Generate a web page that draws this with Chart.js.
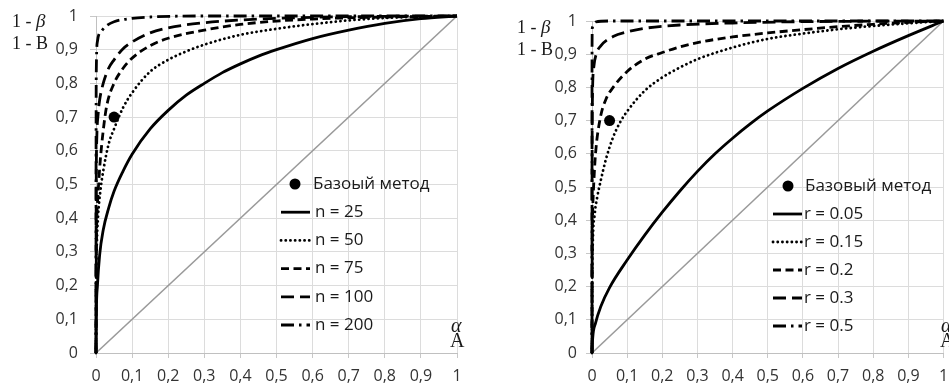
<!DOCTYPE html>
<html><head><meta charset="utf-8">
<script src="https://cdn.jsdelivr.net/npm/chart.js@4.4.1/dist/chart.umd.min.js"></script>
<style>
html,body{margin:0;padding:0;background:#fff;}
#wrap{position:relative;width:949px;height:385px;overflow:hidden;background:#fff;}
#c1{position:absolute;left:0;top:0;}
#c2{position:absolute;left:475px;top:0;}
</style></head><body>
<div id="wrap"><canvas id="c1" width="475" height="385"></canvas><canvas id="c2" width="474" height="385"></canvas></div>
<script>
// ---------- data (alpha, 1-beta) ----------
const tickValues = [0,0.1,0.2,0.3,0.4,0.5,0.6,0.7,0.8,0.9,1];
const basePoint = [[0.05,0.7]];
const diagonal = [[0,0],[1,1]];

// left chart: sample size n
const leftLabels = ['Базоый метод','n = 25','n = 50','n = 75','n = 100','n = 200'];
const n25 = [[0,0],[0.001,0.12],[0.004,0.2],[0.01,0.29],[0.02,0.365],[0.035,0.43],[0.05,0.48],[0.075,0.54],[0.1,0.59],[0.15,0.665],[0.2,0.72],[0.25,0.765],[0.3,0.80],[0.35,0.832],[0.4,0.858],[0.45,0.881],[0.5,0.90],[0.6,0.933],[0.7,0.958],[0.8,0.978],[0.9,0.992],[1,1]];
const n50 = [[0,0],[0.0005,0.2],[0.002,0.31],[0.006,0.41],[0.012,0.48],[0.02,0.54],[0.035,0.62],[0.05,0.665],[0.075,0.728],[0.1,0.772],[0.15,0.835],[0.2,0.87],[0.25,0.895],[0.3,0.915],[0.4,0.944],[0.5,0.962],[0.6,0.976],[0.7,0.987],[0.8,0.994],[0.9,0.998],[1,1]];
const n75 = [[0,0],[0.001,0.3],[0.005,0.46],[0.011,0.56],[0.02,0.66],[0.03,0.735],[0.05,0.80],[0.075,0.845],[0.1,0.875],[0.15,0.912],[0.2,0.934],[0.3,0.958],[0.4,0.975],[0.5,0.985],[0.6,0.991],[0.8,0.997],[1,1]];
const n100 = [[0,0],[0.0005,0.45],[0.002,0.63],[0.006,0.71],[0.01,0.75],[0.02,0.80],[0.035,0.845],[0.05,0.87],[0.075,0.903],[0.1,0.923],[0.15,0.95],[0.2,0.965],[0.3,0.98],[0.4,0.988],[0.5,0.993],[0.7,0.998],[1,1]];
const n200 = [[0,0],[0.0002,0.6],[0.001,0.85],[0.004,0.925],[0.015,0.955],[0.03,0.972],[0.05,0.983],[0.1,0.993],[0.15,0.997],[0.3,1],[1,1]];

// right chart: effect r
const rightLabels = ['Базовый метод','r = 0.05','r = 0.15','r = 0.2','r = 0.3','r = 0.5'];
const r005 = [[0,0],[0.002,0.045],[0.01,0.09],[0.025,0.14],[0.05,0.197],[0.1,0.28],[0.15,0.355],[0.2,0.424],[0.25,0.488],[0.3,0.547],[0.35,0.6],[0.4,0.647],[0.45,0.69],[0.5,0.729],[0.6,0.797],[0.7,0.857],[0.8,0.909],[0.9,0.956],[1,1]];
const r015 = [[0,0],[0.0005,0.2],[0.002,0.32],[0.008,0.42],[0.015,0.47],[0.025,0.52],[0.04,0.585],[0.06,0.65],[0.08,0.695],[0.1,0.728],[0.15,0.79],[0.2,0.83],[0.25,0.86],[0.3,0.885],[0.4,0.92],[0.5,0.946],[0.6,0.962],[0.7,0.975],[0.8,0.985],[0.9,0.993],[1,1]];
const r02 = [[0,0],[0.0005,0.3],[0.002,0.43],[0.005,0.51],[0.01,0.6],[0.024,0.71],[0.04,0.765],[0.06,0.80],[0.1,0.848],[0.15,0.885],[0.2,0.905],[0.25,0.922],[0.3,0.935],[0.4,0.952],[0.5,0.964],[0.6,0.974],[0.7,0.983],[0.8,0.99],[0.9,0.996],[1,1]];
const r03 = [[0,0],[0.0002,0.5],[0.001,0.75],[0.005,0.86],[0.012,0.9],[0.025,0.925],[0.06,0.953],[0.1,0.967],[0.15,0.978],[0.25,0.988],[0.4,0.994],[0.6,0.998],[1,1]];
const r05 = [[0,0],[0.0001,0.9],[0.001,0.98],[0.01,0.997],[0.05,1],[1,1]];

// ---------- styling ----------
const STYLES = [
  {dash: [], cap: 'butt'},             // solid
  {dash: [0.1, 4.6], cap: 'round'},    // dotted
  {dash: [8, 4.5], cap: 'butt'},       // dash
  {dash: [13, 6], cap: 'butt'},        // long dash
  {dash: [13, 5, 2.5, 5], cap: 'butt'} // dash-dot
];
const toXY = pts => pts.map(p => ({x: p[0], y: p[1]}));

function buildDatasets(labels, series) {
  const ds = [];
  ds.push({label: labels[0], data: toXY(basePoint), showLine: false, pointRadius: 5.5,
    pointBackgroundColor: '#000', pointBorderColor: '#000', pointBorderWidth: 0, order: 0, clip: 8});
  series.forEach((s, i) => {
    ds.push({label: labels[i+1], data: toXY(s), showLine: true, borderColor: '#000',
      borderWidth: 2.8, borderDash: STYLES[i].dash, borderCapStyle: STYLES[i].cap,
      pointRadius: 0, cubicInterpolationMode: 'monotone', fill: false, clip: 4, order: 1});
  });
  ds.push({label: '_diag', data: toXY(diagonal), showLine: true, borderColor: '#9a9a9a',
    borderWidth: 1.5, pointRadius: 0, fill: false, order: 5});
  return ds;
}

const fmt = v => { const r = Math.round(v*10)/10; return String(r).replace('.', ','); };

const inLegend = {
  id: 'inLegend',
  afterDatasetsDraw(chart, args, o) {
    const ctx = chart.ctx;
    ctx.save();
    ctx.font = o.font;
    ctx.fillStyle = '#1a1a1a';
    ctx.textBaseline = 'middle';
    ctx.textAlign = 'left';
    chart.data.datasets.forEach((d, i) => {
      if (d.label === '_diag') return;
      const y = o.y + i * o.dy;
      if (i === 0) {
        ctx.beginPath();
        ctx.fillStyle = '#000';
        ctx.arc(o.mx, y, 5.5, 0, Math.PI*2);
        ctx.fill();
        ctx.fillStyle = '#1a1a1a';
        ctx.fillText(d.label, o.mtx, y);
      } else {
        ctx.beginPath();
        ctx.setLineDash(d.borderDash || []);
        ctx.lineCap = d.borderCapStyle;
        ctx.lineWidth = d.borderWidth;
        ctx.strokeStyle = '#000';
        ctx.moveTo(o.x, y);
        ctx.lineTo(o.x + o.sw, y);
        ctx.stroke();
        ctx.setLineDash([]);
        ctx.fillText(d.label, o.tx, y);
      }
    });
    ctx.restore();
  }
};

const axisTitles = {
  id: 'axisTitles',
  afterDraw(chart, args, o) {
    const ctx = chart.ctx;
    ctx.save();
    ctx.fillStyle = '#1a1a1a';
    ctx.textBaseline = 'alphabetic';
    ctx.textAlign = 'left';
    const up = '18px "Liberation Serif"', it = 'italic 19px "Liberation Serif"';
    ctx.font = up; ctx.fillText('1 - ', o.bx, o.by1);
    let w = ctx.measureText('1 - ').width;
    ctx.font = it; ctx.fillText('β', o.bx + w, o.by1);
    ctx.font = up; ctx.fillText('1 - Β', o.bx, o.by2);
    ctx.font = 'italic 20px "Liberation Serif"'; ctx.fillText('α', o.ax, o.ay1);
    ctx.font = '20px "Liberation Serif"'; ctx.fillText('Α', o.ax - 1, o.ay2);
    ctx.restore();
  }
};

function noPad(s) { s.paddingLeft = 0; s.paddingRight = 0; s.paddingTop = 0; s.paddingBottom = 0; }

function makeChart(id, labels, series, cfg) {
  return new Chart(document.getElementById(id), {
    type: 'scatter',
    data: {datasets: buildDatasets(labels, series)},
    options: {
      responsive: false, animation: false, devicePixelRatio: 1,
      layout: {padding: {left: 0, top: cfg.top, right: cfg.right, bottom: 0}},
      plugins: {
        legend: {display: false}, tooltip: {enabled: false},
        inLegend: cfg.legend, axisTitles: cfg.titles
      },
      scales: {
        x: {
          type: 'linear', min: 0, max: 1,
          afterBuildTicks: s => { s.ticks = tickValues.map(v => ({value: v})); },
          afterFit: s => { s.height = 32; noPad(s); },
          ticks: {callback: fmt, color: '#333', font: {family: '"Open Sans"', size: 16}, padding: 9, maxRotation: 0, autoSkip: false},
          grid: {color: '#dcdcdc', lineWidth: 1, tickLength: 5, tickColor: '#c8c8c8'},
          border: {color: '#c0c0c0', width: 1}
        },
        y: {
          type: 'linear', min: 0, max: 1,
          afterBuildTicks: s => { s.ticks = tickValues.map(v => ({value: v})); },
          afterFit: s => { s.width = cfg.yw; noPad(s); },
          ticks: {callback: fmt, color: '#333', font: {family: '"Open Sans"', size: 16}, padding: cfg.ypad, autoSkip: false},
          grid: {color: '#dcdcdc', lineWidth: 1, tickLength: 6, tickColor: '#c8c8c8'},
          border: {color: '#c0c0c0', width: 1}
        }
      }
    },
    plugins: [inLegend, axisTitles]
  });
}

makeChart('c1', leftLabels, [n25, n50, n75, n100, n200], {
  top: 16, right: 18, yw: 96, ypad: 12,
  legend: {font: '17px "Open Sans"', x: 281, sw: 29, tx: 315, mx: 295, mtx: 313, y: 184, dy: 28.2},
  titles: {bx: 12, by1: 27, by2: 49, ax: 451, ay1: 332, ay2: 347}
});
makeChart('c2', rightLabels, [r005, r015, r02, r03, r05], {
  top: 21, right: 4, yw: 117, ypad: 9,
  legend: {font: '17px "Open Sans"', x: 298, sw: 29, tx: 329, mx: 313, mtx: 330, y: 186, dy: 28},
  titles: {bx: 42, by1: 33, by2: 55, ax: 466, ay1: 332, ay2: 347}
});
</script>
</body></html>
